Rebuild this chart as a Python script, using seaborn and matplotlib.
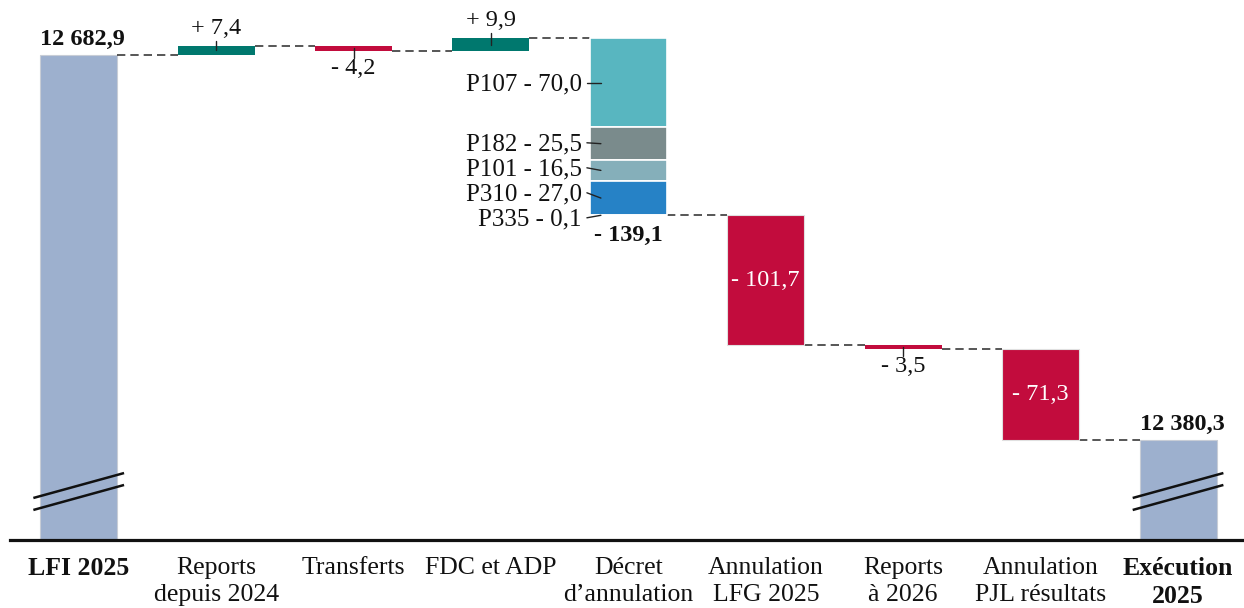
import numpy as np
import pandas as pd
import matplotlib
matplotlib.use("Agg")
import matplotlib.pyplot as plt
import seaborn as sns
from matplotlib.transforms import blended_transform_factory

# ---------------- data ----------------
categories = ["LFI 2025", "Reports\ndepuis 2024", "Transferts", "FDC et ADP",
              "Décret\nd’annulation", "Annulation\nLFG 2025", "Reports\nà 2026",
              "Annulation\nPJL résultats", "Exécution\n2025"]
total_values = [12682.9, 12380.3]
total_labels = ["12 682,9", "12 380,3"]
change_values = [7.4, -4.2, 9.9, -139.1, -101.7, -3.5, -71.3]
change_labels = ["+ 7,4", "- 4,2", "+ 9,9", "- 139,1", "- 101,7", "- 3,5", "- 71,3"]
decree_programs = ["P107", "P182", "P101", "P310", "P335"]
decree_values = [70.0, 25.5, 16.5, 27.0, 0.1]
decree_labels = ["P107 - 70,0", "P182 - 25,5", "P101 - 16,5", "P310 - 27,0", "P335 - 0,1"]

# ---------------- style ----------------
C_TOTAL = "#9DB0CE"
C_POS = "#00786E"
C_NEG = "#C20C3D"
C_DECREE = ["#58B6C0", "#7A8B8C", "#85AFBA", "#2682C6", "#1F4E79"]
W = 0.56

sns.set_theme(style="white")
plt.rcParams["font.family"] = ["Liberation Serif", "DejaVu Serif"]

fig = plt.figure(figsize=(12.44, 6.08), dpi=100)
ax = fig.add_axes([10 / 1244, 68 / 608, 1234 / 1244, 540 / 608])

# totals through seaborn
df_tot = pd.DataFrame({"cat": [categories[0], categories[-1]], "val": total_values})
sns.barplot(data=df_tot, x="cat", y="val", order=categories, color=C_TOTAL,
            saturation=1, width=W, edgecolor="#c8cdd6", linewidth=0.8, ax=ax)

ax.set_xlim(-0.5, 8.48)
ax.set_ylim(12301.7, 12726.2)

fig.canvas.draw()
bb = ax.get_window_extent()
px_x = (ax.get_xlim()[1] - ax.get_xlim()[0]) / bb.width   # data units per px (x)
px_y = (ax.get_ylim()[1] - ax.get_ylim()[0]) / bb.height  # data units per px (y)

# floating bars
levels = [total_values[0]]
running = total_values[0]
for i, v in enumerate(change_values):
    pos = i + 1
    bottom = running if v > 0 else running + v
    if categories[pos].startswith("Décret"):
        top = running
        for val, col in zip(decree_values, C_DECREE):
            ax.bar(pos, val, bottom=top - val, width=W, color=col,
                   edgecolor="white", linewidth=1.2, zorder=3)
            top -= val
    else:
        big = abs(v) > 20
        ax.bar(pos, abs(v), bottom=bottom, width=W,
               color=C_POS if v > 0 else C_NEG,
               edgecolor="#e0e0e0" if big else "none", linewidth=0.8, zorder=3)
    running += v
    levels.append(running)

# connectors
for i in range(len(categories) - 1):
    lvl = levels[i]
    ax.plot([i + W / 2, i + 1 - W / 2], [lvl, lvl], color="#3a3a3a", lw=1.2,
            ls=(0, (5, 3)), zorder=2, solid_capstyle="butt")

# labels for totals
for pos, val, lab in zip([0, len(categories) - 1], total_values, total_labels):
    ax.annotate(lab, (pos + 0.03, val), xytext=(0, 4), textcoords="offset points",
                ha="center", va="bottom", fontsize=17.5, fontweight="bold", color="#111111")

# labels for changes
running = total_values[0]
for i, (v, lab) in enumerate(zip(change_values, change_labels)):
    pos = i + 1
    top = max(running, running + v)
    bot = min(running, running + v)
    mid = (top + bot) / 2
    if categories[pos].startswith("Décret"):
        ax.annotate(lab, (pos, bot), xytext=(0, -7), textcoords="offset points",
                    ha="center", va="top", fontsize=17.5, fontweight="bold", color="#111111")
    elif abs(v) > 20:
        ax.text(pos, mid, lab, ha="center", va="center", fontsize=17.5,
                color="white", zorder=4)
    else:
        if v > 0:
            ax.plot([pos, pos], [mid, top + 5 * px_y], color="#222222", lw=1.0, zorder=4)
            ax.annotate(lab, (pos, top), xytext=(0, 5), textcoords="offset points",
                        ha="center", va="bottom", fontsize=17.5, color="#111111")
        else:
            ax.plot([pos, pos], [mid, bot - 7 * px_y], color="#222222", lw=1.0, zorder=4)
            ax.annotate(lab, (pos, bot), xytext=(0, -5), textcoords="offset points",
                        ha="center", va="top", fontsize=17.5, color="#111111")
    running += v

# decree breakdown labels with leaders
dpos = categories.index("Décret\nd’annulation")
top = levels[dpos - 1]
centers = []
for val in decree_values:
    centers.append(top - val / 2)
    top -= val
label_y = [0.0] * len(centers)
label_y[-1] = centers[-1] - 2.5 * px_y
for k in range(len(centers) - 2, -1, -1):
    label_y[k] = max(centers[k], label_y[k + 1] + 25 * px_y)
left = dpos - W / 2
for lab, cy, ly in zip(decree_labels, centers, label_y):
    ax.plot([left - 3 * px_x, left + 11 * px_x], [ly, cy], color="#222222", lw=1.0, zorder=4)
    ax.text(left - 8 * px_x, ly - 1.5 * px_y, lab, ha="right", va="center", fontsize=18,
            color="#111111")

# axis break marks on total bars
tr = blended_transform_factory(ax.transData, ax.transAxes)
for pos in [0, len(categories) - 1]:
    for y0, y1 in [(0.0778, 0.124), (0.0556, 0.1019)]:
        ax.plot([pos - 0.33, pos + 0.33], [y0, y1], color="#111111", lw=1.8,
                transform=tr, zorder=5, solid_capstyle="butt")

# axes cosmetics
sns.despine(ax=ax, left=True, top=True, right=True)
ax.spines["bottom"].set_linewidth(2.3)
ax.spines["bottom"].set_color("#111111")
ax.set_yticks([])
ax.set_ylabel("")
ax.set_xlabel("")
ax.set_xticks(range(len(categories)))
ax.set_xticklabels(categories, fontsize=18.5, linespacing=1.32)
ax.tick_params(axis="x", length=0, pad=12, colors="#111111")
for idx in [0, len(categories) - 1]:
    ax.get_xticklabels()[idx].set_fontweight("bold")
ax.set_facecolor("white")
fig.patch.set_facecolor("white")

fig.savefig("out.png", dpi=100, facecolor="white")
